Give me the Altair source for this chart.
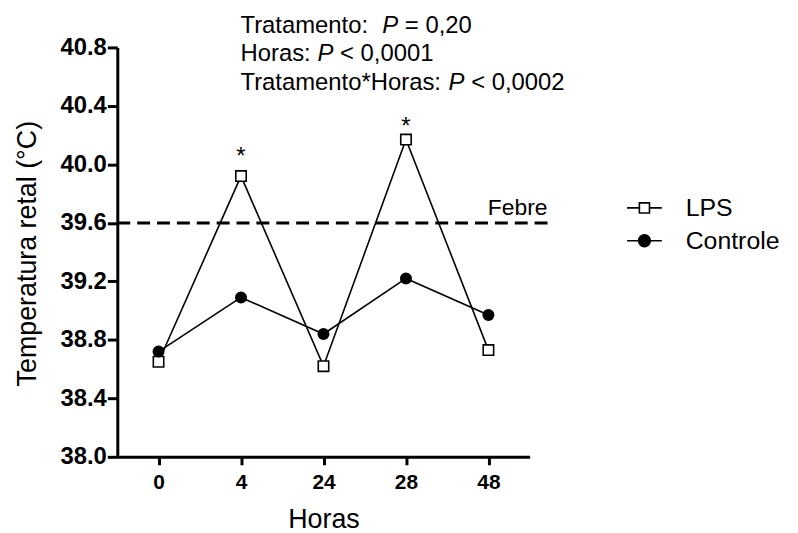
import altair as alt
import pandas as pd

# ---- data ----
horas = ["0", "4", "24", "28", "48"]
lps = [38.65, 39.92, 38.62, 40.17, 38.73]
controle = [38.72, 39.09, 38.84, 39.22, 38.97]
grupos = ["LPS", "Controle"]
febre = 39.6
sig_horas = ["4", "28"]
sig_y = [40.08, 40.28]
y_ticks = [38.0, 38.4, 38.8, 39.2, 39.6, 40.0, 40.4, 40.8]

df = pd.DataFrame({
    "Hora": horas * 2,
    "Grupo": ["LPS"] * len(horas) + ["Controle"] * len(horas),
    "Temp": lps + controle,
})
sig_df = pd.DataFrame({"Hora": sig_horas, "y": sig_y})
febre_df = pd.DataFrame({"y": [febre]})

FONT = "Liberation Sans"

x_enc = alt.X(
    "Hora:O", sort=horas,
    scale=alt.Scale(type="point", padding=0.5),
    axis=alt.Axis(
        title="Horas", labelAngle=0, labelFontSize=21, labelFontWeight="bold",
        labelPadding=7, tickSize=8, tickWidth=3, domainWidth=3,
        titleFontSize=27, titleFontWeight="normal", titleY=63,
        titleBaseline="middle",
    ),
)
y_scale = alt.Scale(domain=[38.0, 40.8], nice=False, zero=False)
y_enc = alt.Y(
    "Temp:Q", scale=y_scale,
    axis=alt.Axis(
        title="Temperatura retal (°C)", values=y_ticks, format=".1f",
        labelFontSize=24, labelFontWeight="bold", labelPadding=1,
        tickSize=10, tickWidth=3, domainWidth=3,
        titleFontSize=27, titleFontWeight="normal",
        titleX=-90, titleY=207, titleBaseline="middle", titleAlign="center",
    ),
)

base = alt.Chart(df)

lines = base.mark_line(color="black", strokeWidth=1.6).encode(
    x=x_enc, y=y_enc, detail="Grupo:N"
)

points = base.mark_point(
    filled=True, stroke="black", strokeWidth=1.6, size=110, opacity=1
).encode(
    x=x_enc, y=y_enc,
    shape=alt.Shape("Grupo:N", scale=alt.Scale(domain=grupos, range=["square", "circle"]), legend=None),
    fill=alt.Fill("Grupo:N", scale=alt.Scale(domain=grupos, range=["white", "black"]), legend=None),
)

path_lps = "M-1,0H-0.29M0.29,0H1M-0.29,-0.29H0.29V0.29H-0.29Z"
path_ctrl = "M-1,0H1M0.34,0A0.34,0.34,0,1,1,-0.34,0A0.34,0.34,0,1,1,0.34,0Z"
leg = alt.Legend(
    title=None, orient="none", legendX=512, legendY=143,
    symbolSize=1225, symbolStrokeWidth=1.6, symbolStrokeColor="black",
    labelFontSize=25, labelFont=FONT, labelOffset=23, padding=0, rowPadding=1,
    labelColor="black",
)
legend_layer = base.transform_filter("datum.Temp > 100").mark_point(
    filled=True, strokeWidth=1.6, size=1225, opacity=1
).encode(
    x=x_enc, y=y_enc,
    shape=alt.Shape("Grupo:N", scale=alt.Scale(domain=grupos, range=[path_lps, path_ctrl]), legend=leg),
    fill=alt.Fill("Grupo:N", scale=alt.Scale(domain=grupos, range=["white", "black"]), legend=leg),
    stroke=alt.Stroke("Grupo:N", scale=alt.Scale(domain=grupos, range=["black", "black"]), legend=leg),
)

rule = alt.Chart(febre_df).mark_rule(
    color="black", strokeWidth=3, strokeDash=[13, 7]
).encode(y=alt.Y("y:Q", scale=y_scale), x=alt.value(0), x2=alt.value(439))

febre_txt = alt.Chart(febre_df).mark_text(
    text="Febre", font=FONT, fontSize=23, align="right", baseline="alphabetic", color="black"
).encode(x=alt.value(433), y=alt.value(169))

stars = alt.Chart(sig_df).mark_text(
    text="*", font=FONT, fontSize=24, baseline="alphabetic", dy=11, color="black"
).encode(x=x_enc, y=alt.Y("y:Q", scale=y_scale))


def txt(s, x, y, italic=False):
    return alt.Chart(febre_df).mark_text(
        text=s, font=FONT, fontSize=24, align="left", baseline="alphabetic",
        fontStyle="italic" if italic else "normal", color="black",
    ).encode(x=alt.value(x), y=alt.value(y))


annot = [
    txt("Tratamento:", 124, -15), txt("P", 266.7, -15, True), txt("= 0,20", 289.4, -15),
    txt("Horas:", 124, 14), txt("P", 201.4, 14, True), txt("< 0,0001", 224.1, 14),
    txt("Tratamento*Horas:", 124, 43), txt("P", 333.4, 43, True), txt("< 0,0002", 356.1, 43),
]

chart = alt.layer(
    rule, lines, points, legend_layer, stars, febre_txt, *annot
).resolve_scale(
    shape="independent", fill="independent", stroke="independent"
).properties(
    width=415, height=412,
    autosize=alt.AutoSizeParams(type="none"),
    padding={"left": 110, "top": 38, "right": 262, "bottom": 78},
).configure(
    font=FONT,
).configure_view(
    stroke=None
).configure_axis(
    grid=False, domainColor="black", tickColor="black", labelColor="black",
    titleColor="black", labelFont=FONT, titleFont=FONT,
)

chart.save("out.html", embed_options={"renderer": "svg", "actions": False})
